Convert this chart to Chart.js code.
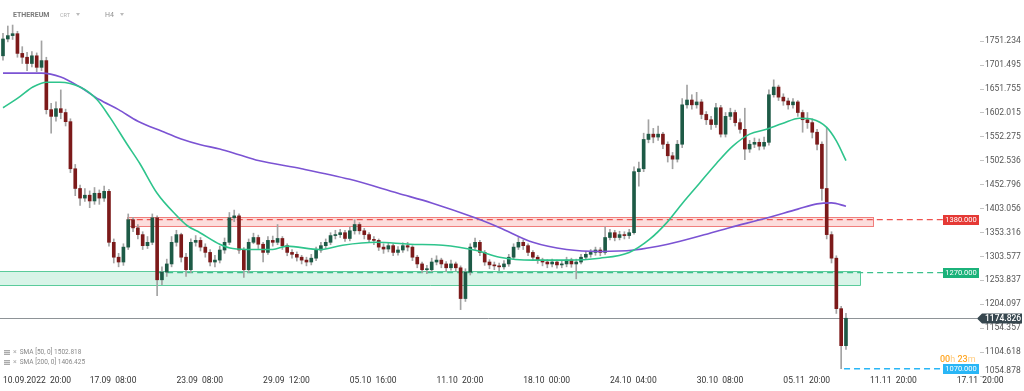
<!DOCTYPE html>
<html>
<head>
<meta charset="utf-8">
<script src="https://cdn.jsdelivr.net/npm/chart.js@4.4.0/dist/chart.umd.min.js"></script>
<style>
  body { margin: 0; background: #fff; }
  #wrap { position: relative; width: 1024px; height: 391px; overflow: hidden; font-family: Roboto, sans-serif; }
  canvas { position: absolute; left: 0; top: 0; }
  .hdr { position: absolute; top: 10px; line-height: 10px; white-space: nowrap; }
  .caret { display: inline-block; width: 0; height: 0; border-left: 2.5px solid transparent; border-right: 2.5px solid transparent; border-top: 3px solid #bbb; margin-left: 6px; vertical-align: 1px; }
  .leg { position: absolute; left: 4px; font-size: 6.5px; color: #888; line-height: 9px; white-space: nowrap; }
  .ic { display: inline-block; width: 6px; height: 5px; background: repeating-linear-gradient(#aaa 0 1px, #ddd 1px 2px); margin-right: 3px; vertical-align: -1px; }
  .xx { color: #aaa; margin-right: 3px; font-size: 7px; }
  #timer { position: absolute; left: 940px; top: 354px; font-size: 9px; line-height: 10px; color: #ffcc80; }
  #timer b { color: #ffa726; font-weight: 500; }
</style>
</head>
<body>
<div id="wrap">
  <canvas id="myChart" width="1024" height="391"></canvas>
  <div class="hdr" style="left:13px;font-size:7px;font-weight:bold;color:#7a7a7a;">ETHEREUM</div>
  <div class="hdr" style="left:60px;font-size:5.5px;color:#b0b0b0;">CRT<span class="caret"></span></div>
  <div class="hdr" style="left:105px;font-size:7px;color:#909090;">H4<span class="caret"></span></div>
  <div class="leg" style="top:348px;"><span class="ic"></span><span class="xx">×</span>SMA [50, 0] 1502.818</div>
  <div class="leg" style="top:358px;"><span class="ic"></span><span class="xx">×</span>SMA [200, 0] 1406.425</div>
  <div id="timer"><b>00</b>h <b>23</b>m</div>
</div>
<script>
// x-Achse: Kerzenindex (8h je Kerze), Beschriftung alle 18 Kerzen
const tickPos = [0, 18, 36, 54, 72, 90, 108, 126, 144, 162, 180, 198];
const tickLabels = ['10.09.2022  20:00', '17.09  08:00', '23.09  08:00', '29.09  12:00', '05.10  16:00', '11.10  20:00',
                    '18.10  00:00', '24.10  04:00', '30.10  08:00', '05.11  20:00', '11.11  20:00', '17.11  20:00'];
const yTicks = [1054.878, 1104.618, 1154.357, 1204.097, 1253.837, 1303.577, 1353.316, 1403.056,
                1452.796, 1502.536, 1552.275, 1602.015, 1651.755, 1701.495, 1751.234];

const opens = [1721,1756,1763,1767,1726,1718,1705,1721,1697,1711,
  1609,1595,1611,1603,1584,1486,1445,1425,1431,1419,
  1435,1425,1439,1333,1302,1292,1323,1380,1363,1349,
  1326,1333,1384,1255,1271,1288,1333,1349,1302,1276,
  1333,1337,1323,1312,1292,1296,1317,1333,1384,1388,
  1317,1276,1333,1343,1329,1312,1337,1333,1341,1326,
  1312,1308,1302,1296,1292,1300,1317,1326,1333,1347,
  1349,1353,1341,1357,1370,1357,1349,1339,1337,1323,
  1319,1326,1312,1317,1326,1323,1302,1288,1276,1276,
  1292,1296,1288,1280,1288,1280,1216,1271,1323,1333,
  1312,1292,1286,1284,1282,1288,1302,1323,1333,1326,
  1312,1302,1296,1292,1288,1292,1286,1288,1296,1288,
  1292,1302,1308,1312,1317,1312,1343,1353,1343,1349,
  1347,1353,1480,1486,1547,1558,1552,1558,1537,1513,
  1506,1537,1619,1629,1619,1625,1599,1588,1578,1613,
  1558,1595,1603,1582,1568,1527,1537,1541,1533,1541,
  1640,1656,1635,1627,1619,1625,1603,1588,1582,1562,
  1537,1445,1349,1300,1195,1118];
const highs = [1768,1783,1785,1772,1740,1728,1730,1727,1752,1718,
  1622,1625,1650,1610,1590,1495,1452,1445,1440,1447,
  1442,1450,1443,1340,1310,1330,1392,1385,1370,1355,
  1345,1392,1388,1282,1298,1345,1358,1352,1310,1340,
  1347,1343,1330,1318,1306,1325,1342,1395,1400,1392,
  1322,1340,1352,1348,1333,1345,1346,1370,1345,1330,
  1318,1313,1306,1302,1308,1323,1333,1340,1353,1358,
  1360,1358,1365,1380,1374,1362,1353,1345,1340,1330,
  1333,1330,1324,1332,1333,1326,1306,1292,1285,1300,
  1305,1300,1293,1296,1292,1284,1278,1330,1342,1337,
  1316,1297,1292,1290,1295,1308,1330,1343,1338,1330,
  1316,1306,1300,1297,1298,1296,1295,1302,1300,1298,
  1308,1314,1318,1323,1322,1365,1360,1358,1356,1355,
  1360,1490,1500,1560,1588,1570,1575,1562,1542,1520,
  1545,1632,1660,1640,1645,1630,1605,1595,1622,1618,
  1603,1612,1608,1590,1612,1545,1550,1548,1552,1650,
  1671,1660,1642,1633,1632,1628,1608,1603,1590,1568,
  1542,1572,1355,1305,1200,1185];
const lows = [1712,1750,1755,1718,1705,1690,1698,1688,1690,1600,
  1560,1585,1590,1575,1478,1430,1410,1418,1405,1412,
  1412,1418,1325,1290,1282,1285,1318,1355,1340,1318,
  1320,1328,1222,1245,1262,1282,1325,1292,1262,1270,
  1325,1315,1302,1284,1282,1290,1310,1328,1376,1310,
  1260,1270,1330,1320,1292,1308,1325,1328,1318,1305,
  1300,1294,1288,1284,1286,1295,1312,1320,1328,1340,
  1343,1335,1336,1350,1350,1340,1332,1328,1316,1310,
  1313,1305,1306,1312,1315,1295,1280,1270,1268,1272,
  1286,1280,1272,1275,1273,1193,1210,1265,1318,1305,
  1285,1278,1276,1274,1277,1283,1298,1318,1318,1305,
  1295,1289,1284,1280,1282,1279,1280,1282,1281,1257,
  1288,1297,1302,1306,1305,1308,1338,1336,1338,1340,
  1341,1350,1450,1480,1540,1540,1545,1528,1500,1486,
  1500,1530,1612,1610,1612,1590,1578,1568,1572,1552,
  1552,1588,1575,1560,1505,1520,1530,1525,1527,1535,
  1635,1628,1618,1610,1612,1595,1562,1570,1550,1525,
  1420,1340,1290,1185,1070,1110];
const closes = [1756,1763,1767,1726,1718,1705,1721,1697,1711,1609,
  1595,1611,1603,1584,1486,1445,1425,1431,1419,1435,
  1425,1439,1333,1302,1292,1323,1380,1363,1349,1326,
  1333,1384,1255,1271,1288,1333,1349,1302,1276,1333,
  1337,1323,1312,1292,1296,1317,1333,1384,1388,1317,
  1276,1333,1343,1329,1312,1337,1333,1341,1326,1312,
  1308,1302,1296,1292,1300,1317,1326,1333,1347,1349,
  1353,1341,1357,1370,1357,1349,1339,1337,1323,1319,
  1326,1312,1317,1326,1323,1302,1288,1276,1276,1292,
  1296,1288,1280,1288,1280,1216,1271,1323,1333,1312,
  1292,1286,1284,1282,1288,1302,1323,1333,1326,1312,
  1302,1296,1292,1288,1292,1286,1288,1296,1288,1292,
  1302,1308,1312,1317,1312,1343,1353,1343,1349,1347,
  1353,1480,1486,1547,1558,1552,1558,1537,1513,1506,
  1537,1619,1629,1619,1625,1599,1588,1578,1613,1558,
  1595,1603,1582,1568,1527,1537,1541,1533,1541,1640,
  1656,1635,1627,1619,1625,1603,1588,1582,1562,1537,
  1445,1349,1300,1195,1118,1175];

// gleitende Durchschnitte
const sma50X = [0,3.5,6.2,9.1,11.8,16,19.5,22.2,25.7,28.4,32,36.1,38.2,40.9,45,47.7,51.9,56,58.9,65.8,70.5,77.6,
  84.4,91.3,98.3,103.1,110,117,123.9,130,134.2,137.8,141.1,144.6,148.1,151.5,155,158.5,161.8,165.4,168,171,173,175];
const sma50Vals = [1613,1636,1656,1666,1666,1656,1630,1593,1538,1497,1435,1388,1368,1353,1329,1320,1318,1318,1325,1318,1327,1333,
  1329,1327,1316,1302,1296,1296,1300,1312,1339,1374,1415,1456,1497,1533,1558,1568,1580,1591,1589,1572,1544,1503];
const sma200X = [0,8,12,16,20,24,28,33,37,41,45,49,53,62,72,82,89,98,103,110,117,124,131,138,145,151,158,165,169,172,175];
const sma200Vals = [1685,1685,1677,1656,1630,1609,1585,1564,1548,1536,1527,1515,1503,1486,1464,1435,1415,1384,1364,1333,
  1318,1314,1317,1329,1347,1364,1382,1402,1413,1415,1408];

// Zonen und Niveaus
const redZone = [1366, 1386];
const greenZone = [1244, 1273.5];
const levelRed = 1380;
const levelGreen = 1270;
const levelBlue = 1070;
const currentPrice = 1174.826;

const bull = '#1d5a46';
const bear = '#7c1a1a';

const overlay = {
    id: 'overlay',
    beforeDatasetsDraw(chart) {
        const {ctx, chartArea: a, scales: {x, y}} = chart;
        ctx.save();
        // gruene Zone
        let x0 = a.left, x1 = Math.round(x.getPixelForValue(178)) + 0.5;
        let y0 = Math.round(y.getPixelForValue(greenZone[1])) + 0.5;
        let y1 = Math.round(y.getPixelForValue(greenZone[0])) + 0.5;
        ctx.fillStyle = 'rgba(60,200,140,0.2)';
        ctx.fillRect(x0, y0, x1 - x0, y1 - y0);
        ctx.strokeStyle = '#5acb9b';
        ctx.lineWidth = 1;
        ctx.beginPath();
        ctx.moveTo(x0, y0); ctx.lineTo(x1, y0); ctx.lineTo(x1, y1); ctx.lineTo(x0, y1);
        ctx.stroke();
        // rote Zone
        x0 = Math.round(x.getPixelForValue(25.7)) + 0.5;
        x1 = Math.round(x.getPixelForValue(180.7)) + 0.5;
        y0 = Math.round(y.getPixelForValue(redZone[1])) + 0.5;
        y1 = Math.round(y.getPixelForValue(redZone[0])) + 0.5;
        ctx.fillStyle = 'rgba(239,83,80,0.2)';
        ctx.fillRect(x0, y0, x1 - x0, y1 - y0);
        ctx.strokeStyle = '#f07e7c';
        ctx.strokeRect(x0, y0, x1 - x0, y1 - y0);
        // aktueller Kurs
        const yp = Math.round(y.getPixelForValue(currentPrice)) + 0.5;
        ctx.strokeStyle = '#8e9397';
        ctx.beginPath(); ctx.moveTo(a.left, yp); ctx.lineTo(a.right, yp); ctx.stroke();
        // gestrichelte Linien
        const tagLeft = a.right - 34;
        ctx.setLineDash([6, 4]);
        ctx.lineWidth = 1.3;
        [[levelRed, 25.7, '#ef5350'], [levelGreen, 32, '#3cc08c'], [levelBlue, 174.6, '#29b6f6']].forEach(l => {
            const yy = y.getPixelForValue(l[0]);
            ctx.strokeStyle = l[2];
            ctx.beginPath(); ctx.moveTo(x.getPixelForValue(l[1]), yy); ctx.lineTo(tagLeft, yy); ctx.stroke();
        });
        ctx.restore();
    },
    afterDraw(chart) {
        const {ctx, chartArea: a, scales: {y}} = chart;
        ctx.save();
        const tagLeft = a.right - 34;
        ctx.font = '7.5px Roboto';
        ctx.textAlign = 'center';
        ctx.textBaseline = 'middle';
        [[levelRed, '#e53935'], [levelGreen, '#1bb27a'], [levelBlue, '#29b6f6']].forEach(l => {
            const yy = Math.round(y.getPixelForValue(l[0]));
            ctx.fillStyle = l[1];
            ctx.fillRect(tagLeft, yy - 5, 36, 10);
            ctx.fillStyle = '#fff';
            ctx.fillText(l[0].toFixed(3), tagLeft + 18, yy + 0.5);
        });
        // Kursmarke rechts
        const yp = Math.round(y.getPixelForValue(currentPrice)) + 0.5;
        ctx.fillStyle = '#37474f';
        ctx.beginPath();
        ctx.moveTo(a.right, yp);
        ctx.lineTo(a.right + 5, yp - 5);
        ctx.lineTo(1022, yp - 5);
        ctx.lineTo(1022, yp + 5);
        ctx.lineTo(a.right + 5, yp + 5);
        ctx.closePath();
        ctx.fill();
        ctx.fillStyle = '#fff';
        ctx.font = '500 8.5px Roboto';
        ctx.textAlign = 'left';
        ctx.fillText(currentPrice.toFixed(3), a.right + 8, yp + 0.5);
        ctx.restore();
    }
};

const ctx = document.getElementById('myChart').getContext('2d');
const myChart = new Chart(ctx, {
    data: {
        datasets: [
            {
                type: 'line',
                label: 'SMA 50',
                data: sma50X.map((v, i) => ({x: v, y: sma50Vals[i]})),
                borderColor: '#2ec48c',
                borderWidth: 1.6,
                pointRadius: 0,
                cubicInterpolationMode: 'monotone',
                order: 0,
            },
            {
                type: 'line',
                label: 'SMA 200',
                data: sma200X.map((v, i) => ({x: v, y: sma200Vals[i]})),
                borderColor: '#7b53d3',
                borderWidth: 1.6,
                pointRadius: 0,
                cubicInterpolationMode: 'monotone',
                order: 1,
            },
            {
                type: 'bar',
                label: 'Koerper',
                data: opens.map((o, i) => ({x: i, y: [o, closes[i]]})),
                backgroundColor: c => closes[c.dataIndex] >= opens[c.dataIndex] ? bull : bear,
                barThickness: 3,
                minBarLength: 1,
                grouped: false,
                order: 2,
            },
            {
                type: 'bar',
                label: 'Docht',
                data: highs.map((h, i) => ({x: i, y: [lows[i], h]})),
                backgroundColor: '#a3a3a3',
                barThickness: 1,
                grouped: false,
                order: 3,
            },
        ]
    },
    options: {
        responsive: false,
        animation: false,
        devicePixelRatio: 1,
        layout: { padding: 0 },
        plugins: {
            legend: { display: false },
            tooltip: { enabled: false },
        },
        scales: {
            x: {
                type: 'linear',
                offset: false,
                min: -0.62,
                max: 202.2,
                afterBuildTicks: s => { s.ticks = tickPos.map(v => ({value: v})); },
                afterFit: s => { s.height = 15; },
                grid: { display: false, drawTicks: false, offset: false },
                border: { display: false },
                ticks: {
                    autoSkip: false,
                    maxRotation: 0,
                    align: 'start',
                    padding: 0,
                    color: '#333',
                    font: { family: 'Roboto', size: 8.5 },
                    callback: (v, i) => tickLabels[i],
                },
            },
            y: {
                position: 'right',
                min: 1054.878,
                max: 1824.4,
                afterBuildTicks: s => { s.ticks = yTicks.map(v => ({value: v})); },
                afterFit: s => { s.width = 47; },
                grid: { drawOnChartArea: false, drawTicks: true, tickLength: 7, color: '#c4c4c4', tickBorderDash: [0, 3, 4, 10] },
                border: { display: false },
                ticks: {
                    autoSkip: false,
                    padding: 1,
                    color: '#555',
                    font: { family: 'Roboto', size: 8.5 },
                    callback: v => v === yTicks[0] ? [v.toFixed(3), ''] : v.toFixed(3),
                },
            },
        },
    },
    plugins: [overlay],
});
</script>
</body>
</html>
